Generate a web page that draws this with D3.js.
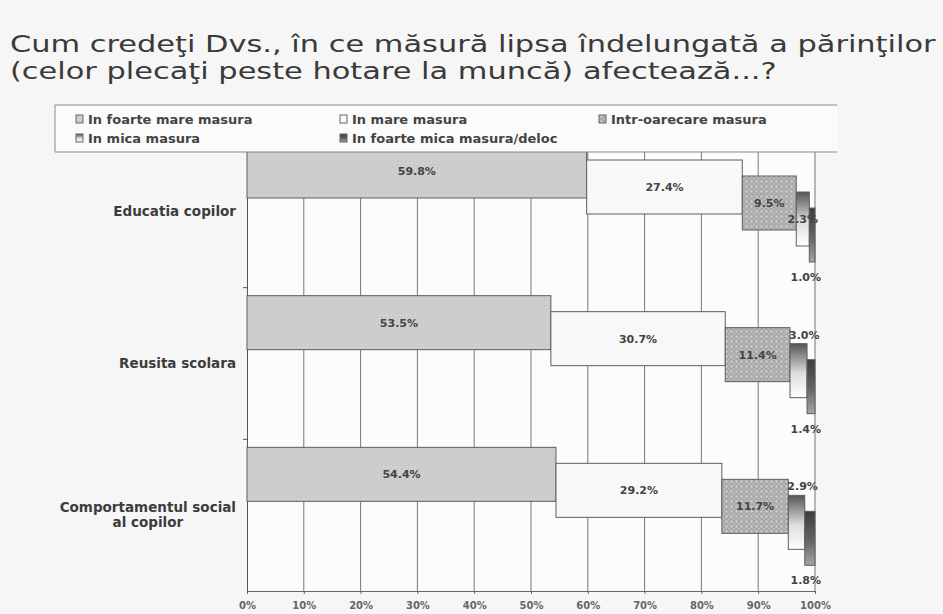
<!DOCTYPE html>
<html>
<head>
<meta charset="utf-8">
<script src="https://cdn.jsdelivr.net/npm/d3@7"></script>
<style>
  body { margin: 0; background: #f6f6f6; }
  svg { display: block; }
</style>
</head>
<body>
<svg id="chart" width="943" height="614"></svg>
<script>
// chart data
const titleLines = [
  'Cum credeţi Dvs., în ce măsură lipsa îndelungată a părinţilor',
  '(celor plecaţi peste hotare la muncă) afectează...?'
]
const categories = [['Educatia copilor'], ['Reusita scolara'], ['Comportamentul social', 'al copilor']]
const seriesNames = ['In foarte mare masura', 'In mare masura', 'Intr-oarecare masura', 'In mica masura', 'In foarte mica masura/deloc']
const foarteMare = [59.8, 53.5, 54.4]
const mare = [27.4, 30.7, 29.2]
const oarecare = [9.5, 11.4, 11.7]
const mica = [2.3, 3.0, 2.9]
const foarteMica = [1.0, 1.4, 1.8]
const xTicks = [0, 10, 20, 30, 40, 50, 60, 70, 80, 90, 100]

const seriesValues = [foarteMare, mare, oarecare, mica, foarteMica]
const keys = d3.range(seriesNames.length)
const table = categories.map((c, ci) => {
  const row = { cat: ci }
  keys.forEach(k => { row[k] = seriesValues[k][ci] })
  return row
})
const stacked = d3.stack().keys(keys)(table)

const svg = d3.select('#chart')
const font = '"DejaVu Sans", Verdana, sans-serif'

// fills
const defs = svg.append('defs')
const p1 = defs.append('pattern').attr('id', 'pat1').attr('width', 4).attr('height', 4).attr('patternUnits', 'userSpaceOnUse')
p1.append('rect').attr('width', 4).attr('height', 4).attr('fill', '#cdcdcd')
p1.append('rect').attr('x', 1).attr('y', 1).attr('width', 1).attr('height', 1).attr('fill', '#c0c0c0')
p1.append('rect').attr('x', 3).attr('y', 2).attr('width', 1).attr('height', 1).attr('fill', '#d8d8d8')
const p3 = defs.append('pattern').attr('id', 'pat3').attr('width', 5).attr('height', 5).attr('patternUnits', 'userSpaceOnUse')
p3.append('rect').attr('width', 5).attr('height', 5).attr('fill', '#a8a8a8')
p3.append('circle').attr('cx', 1.5).attr('cy', 1.5).attr('r', 1.2).attr('fill', '#cfcfcf')
p3.append('circle').attr('cx', 4).attr('cy', 4).attr('r', 0.9).attr('fill', '#c2c2c2')
const g4 = defs.append('linearGradient').attr('id', 'grad4').attr('x1', 0).attr('y1', 0).attr('x2', 0).attr('y2', 1)
g4.append('stop').attr('offset', '0%').attr('stop-color', '#555')
g4.append('stop').attr('offset', '55%').attr('stop-color', '#dedede')
g4.append('stop').attr('offset', '100%').attr('stop-color', '#fff')
const g5 = defs.append('linearGradient').attr('id', 'grad5').attr('x1', 0).attr('y1', 0).attr('x2', 0).attr('y2', 1)
g5.append('stop').attr('offset', '0%').attr('stop-color', '#3c3c3c')
g5.append('stop').attr('offset', '55%').attr('stop-color', '#666')
g5.append('stop').attr('offset', '100%').attr('stop-color', '#a5a5a5')
const fills = ['url(#pat1)', '#f8f8f8', 'url(#pat3)', 'url(#grad4)', 'url(#grad5)']

// scales
const x = d3.scaleLinear().domain([0, 100]).range([247, 815])
const y = d3.scaleBand().domain(d3.range(categories.length)).range([136, 591])
const seriesOffset = d3.scaleLinear().domain([0, 4]).range([8, 72])
const barH = 54

// title - stretched a bit wide, like the slide font
const titleG = svg.append('g')
titleG.selectAll('.title')
  .data(titleLines)
  .join('text')
  .attr('class', 'title')
  .attr('x', 0)
  .attr('y', (d, i) => 52 + i * 27)
  .attr('font-family', font)
  .attr('font-size', 23)
  .attr('fill', '#3a3a3a')
  .text(d => d)
const w1 = titleG.select('.title').node().getComputedTextLength()
titleG.attr('transform', `translate(10,0) scale(${926 / w1},1)`)

// plot area + grid
svg.append('rect').attr('x', x(0)).attr('y', y.range()[0]).attr('width', x(100) - x(0)).attr('height', y.range()[1] - y.range()[0]).attr('fill', '#fcfcfc')
svg.append('g')
  .selectAll('line')
  .data(xTicks.slice(1))
  .join('line')
  .attr('x1', d => x(d)).attr('x2', d => x(d))
  .attr('y1', y.range()[0]).attr('y2', y.range()[1])
  .attr('stroke', '#777').attr('stroke-width', 1)

// axes
const xAxis = svg.append('g')
  .attr('transform', `translate(0,${y.range()[1]})`)
  .call(d3.axisBottom(x).tickValues(xTicks).tickFormat(d => d + '%').tickSize(3))
xAxis.select('.domain').attr('stroke', '#666')
xAxis.selectAll('.tick line').attr('stroke', '#666')
xAxis.selectAll('text').attr('font-family', font).attr('font-size', 10).attr('font-weight', 'bold').attr('fill', '#666').attr('dy', '1.15em')

const yAxis = svg.append('g')
  .attr('transform', `translate(${x(0)},0)`)
  .call(d3.axisLeft(y).tickValues([]).tickSizeOuter(0))
yAxis.select('.domain').attr('stroke', '#555')
yAxis.selectAll('.bound')
  .data(d3.range(1, categories.length))
  .join('line')
  .attr('class', 'bound')
  .attr('x1', -4).attr('x2', 0)
  .attr('y1', d => y(d)).attr('y2', d => y(d))
  .attr('stroke', '#555')

// category labels
categories.forEach((lines, ci) => {
  const t = svg.append('text')
    .attr('font-family', font).attr('font-size', 13.5).attr('font-weight', 'bold')
    .attr('fill', '#3c3c3c').attr('text-anchor', 'middle')
  lines.forEach((ln, li) => {
    t.append('tspan').attr('x', 0)
      .attr('y', y(ci) + y.bandwidth() / 2 + (li - (lines.length - 1) / 2) * 15 + 4)
      .text(ln)
  })
  const w = d3.max(t.selectAll('tspan').nodes(), n => n.getComputedTextLength())
  t.selectAll('tspan').attr('x', 236 - w / 2)
})

// cascading bars
const bars = svg.append('g')
stacked.forEach((layer, si) => {
  bars.selectAll(`.s${si}`)
    .data(layer)
    .join('rect')
    .attr('class', `s${si}`)
    .attr('x', d => x(d[0]))
    .attr('y', (d, ci) => y(ci) + seriesOffset(si))
    .attr('width', d => x(d[1]) - x(d[0]))
    .attr('height', barH)
    .attr('fill', fills[si])
    .attr('stroke', '#5e5e5e')
    .attr('stroke-width', 1)
})

// value labels
stacked.forEach((layer, si) => {
  svg.append('g').selectAll('text')
    .data(layer)
    .join('text')
    .attr('font-family', font).attr('font-size', 11).attr('font-weight', 'bold')
    .attr('fill', '#444')
    .each(function (d, ci) {
      const t = d3.select(this)
      const top = y(ci) + seriesOffset(si)
      const v = seriesValues[si][ci]
      t.text(v.toFixed(1) + '%')
      if (si < 3 || (si === 3 && ci === 0)) {
        t.attr('x', (x(d[0]) + x(d[1])) / 2).attr('y', top + barH / 2 + 4).attr('text-anchor', 'middle')
      } else if (si === 3) {
        t.attr('x', x(d[0]) - 1).attr('y', top - 5).attr('text-anchor', 'start')
      } else {
        t.attr('x', x(d[1]) + 6).attr('y', top + barH + 19).attr('text-anchor', 'end')
      }
    })
})

// legend (drawn over the top of the plot)
const lg = svg.append('g')
lg.append('rect').attr('x', 55).attr('y', 105).attr('width', 782).attr('height', 47).attr('fill', '#fbfbfb')
lg.append('path').attr('d', 'M837,105 H55 V152 H837').attr('fill', 'none').attr('stroke', '#8a8a8a')
const legendPos = [[76, 119], [340, 119], [599, 119], [76, 138], [340, 138]]
seriesNames.forEach((name, si) => {
  const [lx, ly] = legendPos[si]
  lg.append('rect').attr('x', lx).attr('y', ly - 4).attr('width', 7).attr('height', 8)
    .attr('fill', fills[si]).attr('stroke', '#666')
  lg.append('text').attr('x', lx + 12).attr('y', ly + 4.5)
    .attr('font-family', font).attr('font-size', 13).attr('font-weight', 'bold')
    .attr('fill', '#444').text(name)
})
</script>
</body>
</html>
